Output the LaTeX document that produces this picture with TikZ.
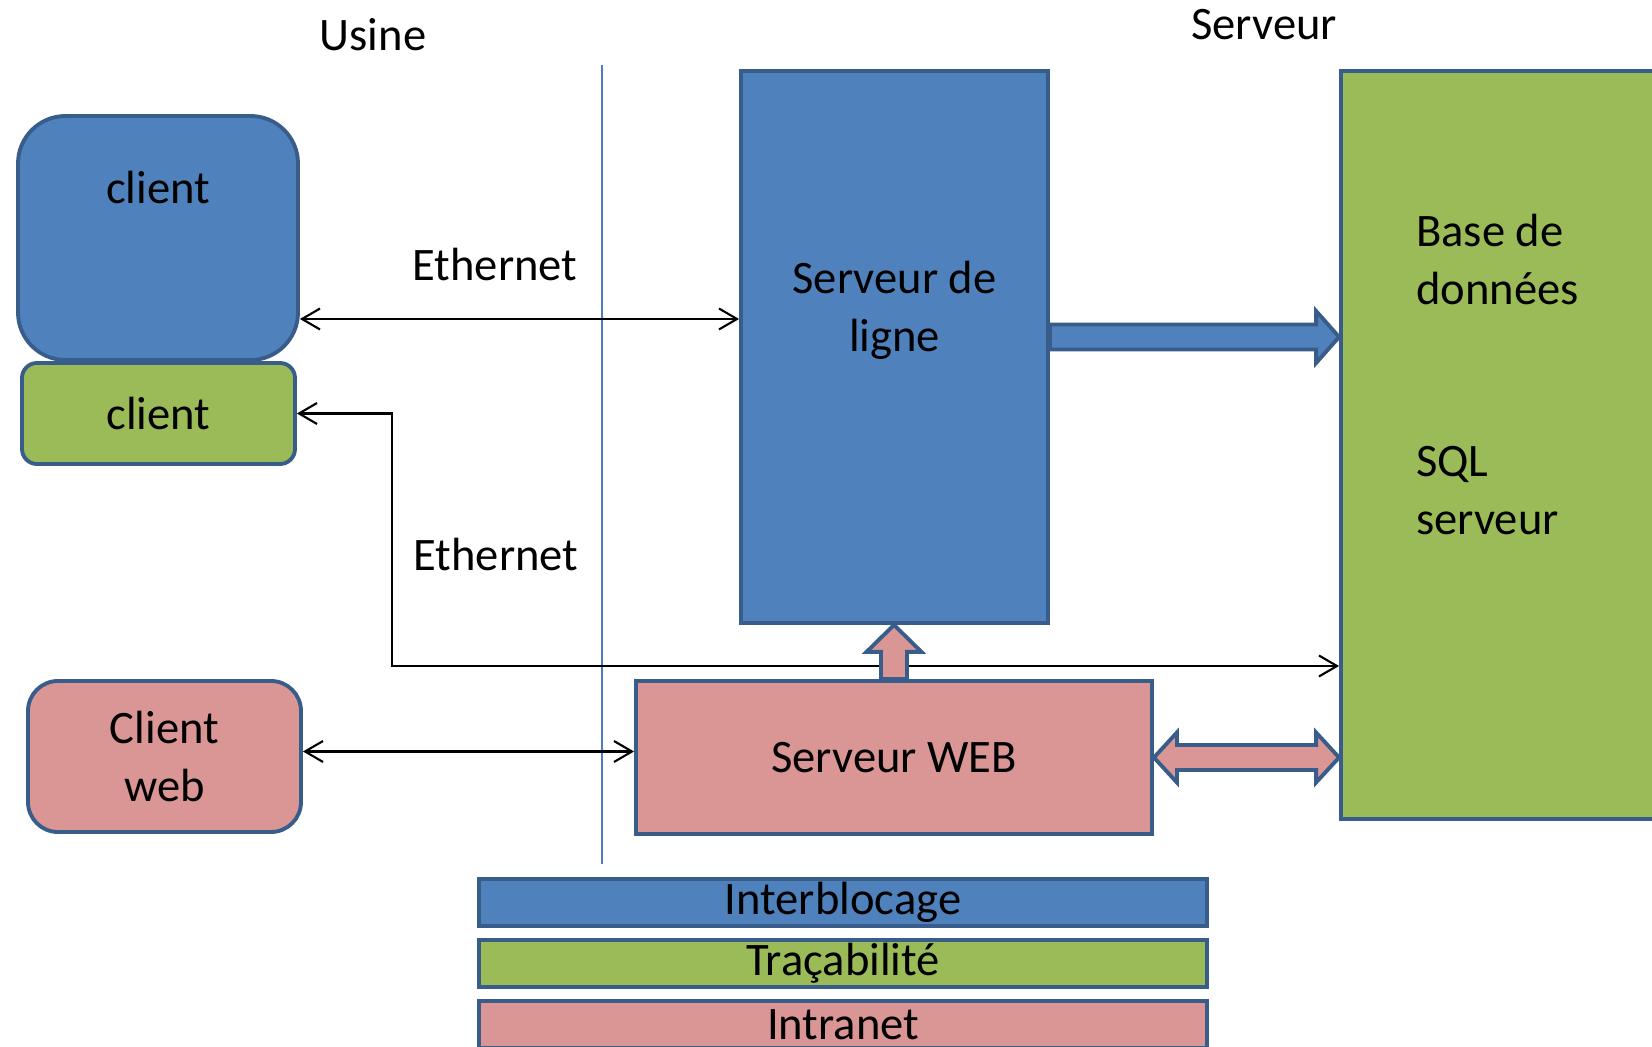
\documentclass[tikz,border=0pt]{standalone}
\usepackage{fontspec}
\setmainfont{Carlito}
\usetikzlibrary{arrows.meta,calc,positioning}
\definecolor{bleu}{HTML}{4F81BD}
\definecolor{vert}{HTML}{9BBB59}
\definecolor{rose}{HTML}{D99694}
\definecolor{bord}{HTML}{385D8A}
\definecolor{trait}{HTML}{4A7EBB}

\begin{document}
\begin{tikzpicture}[
    font=\fontsize{26.5}{33}\selectfont,
    boite/.style={draw=bord, line width=2.2pt},
    bande/.style={draw=bord, line width=2.2pt, minimum width=14.56cm, minimum height=0.94cm, inner sep=0pt},
    lien/.style={black, line width=1.2pt,
        {Straight Barb[length=0.36cm,width=0.42cm]}-{Straight Barb[length=0.36cm,width=0.42cm]}},
    fleche/.style={draw=bord, line width=2.2pt, line join=miter}
]
    % Cadre
    \useasboundingbox (0,0) rectangle (33.04,20.92);

    % Titres
    \node (usine) at (7.46,20.22) {Usine};
    \node (serveur) at (25.28,20.42) {Serveur};

    % Separation usine / serveur
    \draw[trait, line width=1.3pt] (12.04,19.62) -- (12.04,3.64);

    % Clients
    \node[boite, fill=bleu, rounded corners=0.95cm,
        minimum width=5.6cm, minimum height=4.88cm,
        label={[anchor=center,yshift=-1.47cm]north:client}] (client1) at (3.16,16.16) {};
    \node[boite, fill=vert, rounded corners=0.3cm,
        minimum width=5.46cm, minimum height=2.02cm] (client2) at (3.17,12.65) {client};
    \node[boite, fill=rose, rounded corners=0.6cm, align=center,
        minimum width=5.46cm, minimum height=3.02cm] (cweb) at (3.29,5.79) {Client\\web};

    % Serveurs
    \node[boite, fill=bleu, minimum width=6.14cm, minimum height=11.04cm,
        label={[anchor=center,align=center,yshift=-4.82cm]north:Serveur de\\ligne}] (ligne) at (17.89,13.98) {};
    \node[boite, fill=rose, minimum width=10.32cm, minimum height=3.06cm] (web) at (17.88,5.77) {Serveur WEB};
    \node[boite, fill=vert, minimum width=6.6cm, minimum height=14.96cm] (base) at (30.12,12.02) {};
    \node[align=left, anchor=west] (basetxt) at (28.2,13.43) {Base de\\données\\[2.28cm]SQL\\serveur};

    % Legende
    \node[bande, fill=bleu] (interb) at (16.86,2.87) {Interblocage};
    \node[bande, fill=vert, below=0.2cm of interb] (traca) {Traçabilité};
    \node[bande, fill=rose, below=0.2cm of traca] (intra) {Intranet};

    % Liaisons Ethernet
    \node (eth1) at (9.9,15.63) {Ethernet};
    \node (eth2) at (9.92,9.82) {Ethernet};
    \coordinate (coude) at (7.84,7.6);
    \draw[lien] ([yshift=-1.62cm]client1.east) -- ([yshift=-1.62cm]client1.east -| ligne.west);
    \draw[lien] (client2.east) -| (coude) -- (coude -| base.west);
    \draw[lien] ([yshift=0.1cm]cweb.east) -- ([yshift=0.1cm]cweb.east -| web.west);

    % Fleches pleines
    \filldraw[fleche, fill=bleu] ($(ligne.east)+(0,0.45)$) -- ($(ligne.east -| base.west)+(-0.46,0.45)$)
        -- ++(0,0.27) -- ($(ligne.east -| base.west)+(0,0.2)$) -- ++(-0.46,-0.52) -- ++(0,0.27)
        -- ($(ligne.east)+(0,-0.05)$) -- cycle;
    \filldraw[fleche, fill=rose] ($(web.north)+(-0.26,0)$) -- ($(web.north |- ligne.south)+(-0.26,-0.54)$)
        -- ++(-0.29,0) -- (web.north |- ligne.south) -- ++(0.55,-0.54) -- ++(-0.29,0)
        -- ($(web.north)+(0.26,0)$) -- cycle;
    \filldraw[fleche, fill=rose] (web.east) -- ++(0.46,0.5) -- ++(0,-0.25)
        -- ($(web.east -| base.west)+(-0.46,0.25)$) -- ++(0,0.25) -- (web.east -| base.west)
        -- ++(-0.46,-0.5) -- ++(0,0.25) -- ($(web.east)+(0.46,-0.25)$) -- ++(0,-0.25) -- cycle;
\end{tikzpicture}
\end{document}
